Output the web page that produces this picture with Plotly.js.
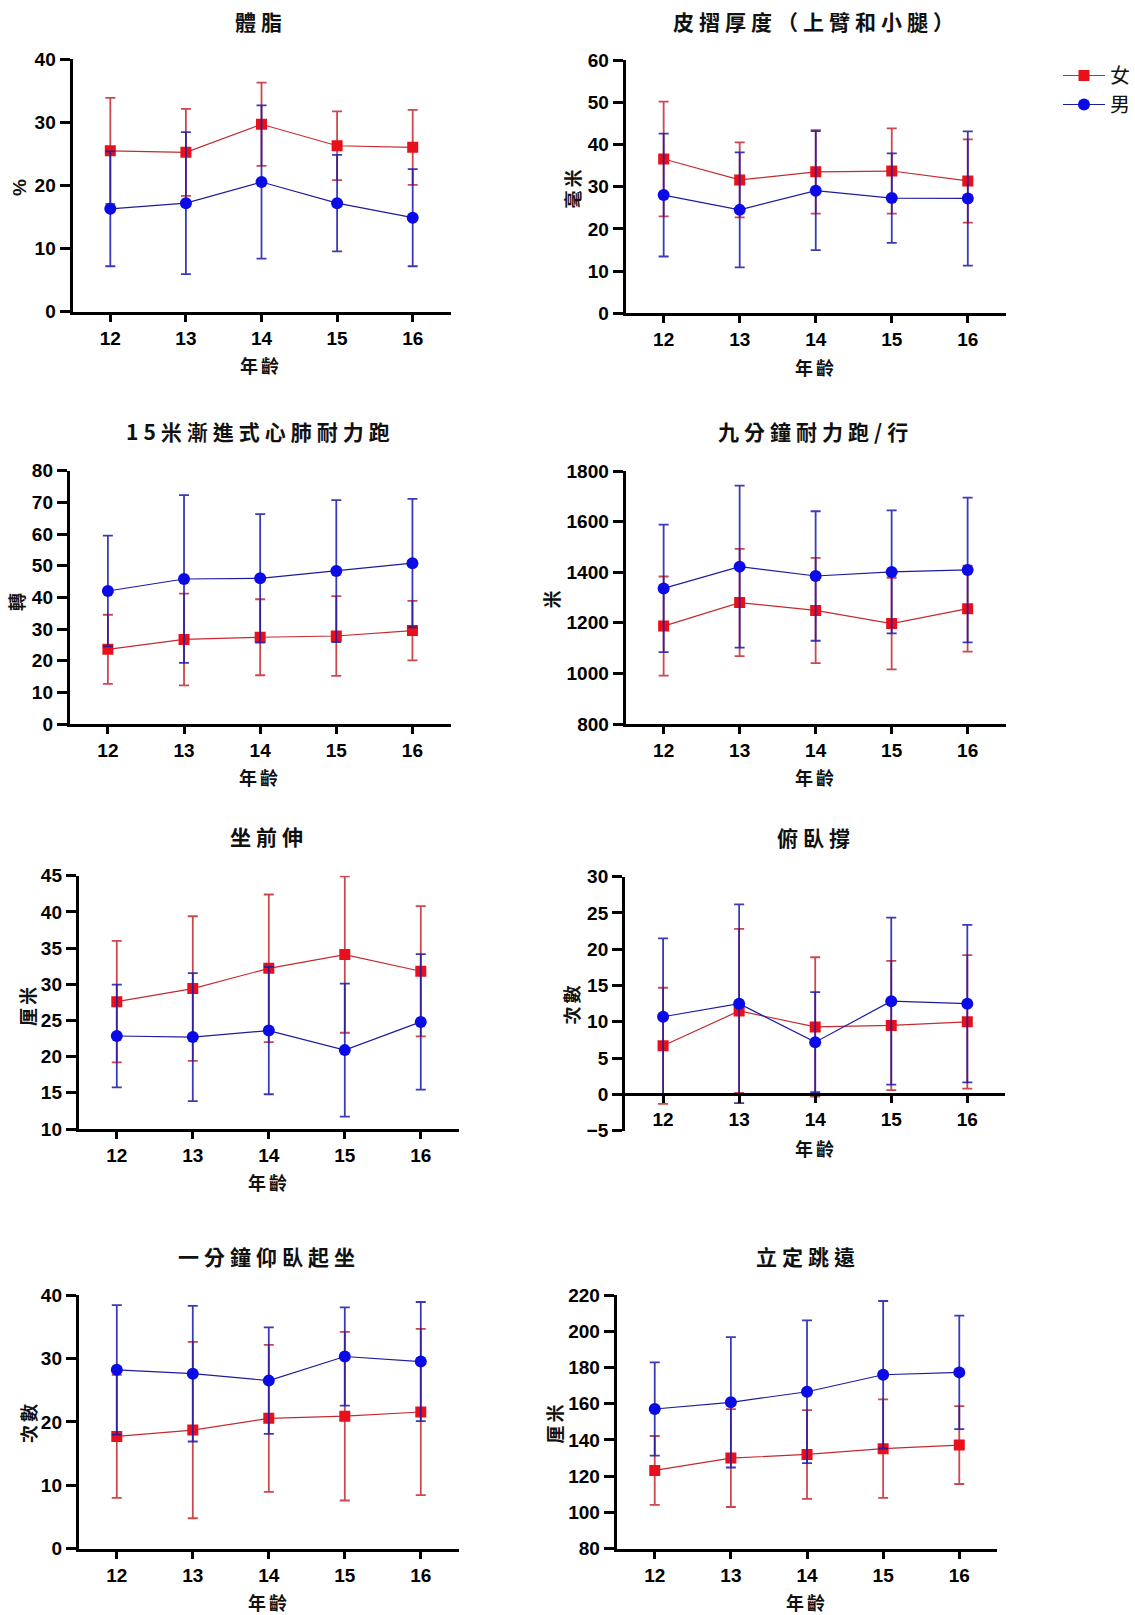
<!DOCTYPE html>
<html>
<head>
<meta charset="utf-8">
<script src="https://cdn.plot.ly/plotly-3.0.1.min.js"></script>
<style>
  html, body { margin: 0; padding: 0; background: #fff; }
  #chart { width: 1135px; height: 1615px; }
  .annotation-text { letter-spacing: 3px; }
</style>
</head>
<body>
<div id="chart"></div>
<script>
// ---- Data ----
const ages = [12, 13, 14, 15, 16];
const seriesNames = ['女', '男'];
const panelTitles = ['體脂', '皮摺厚度（上臂和小腿）', '15米漸進式心肺耐力跑', '九分鐘耐力跑/行',
                     '坐前伸', '俯臥撐', '一分鐘仰臥起坐', '立定跳遠'];
const yAxisTitles = ['%', '毫米', '轉', '米', '厘米', '次數', '次數', '厘米'];
const xAxisTitle = '年齡';

const bodyFatF = [25.5, 25.25, 29.7, 26.3, 26.05];
const bodyFatFsd = [8.4, 6.9, 6.6, 5.45, 5.95];
const bodyFatM = [16.3, 17.2, 20.55, 17.2, 14.9];
const bodyFatMsd = [9.1, 11.25, 12.15, 7.65, 7.7];

const skinfoldF = [36.55, 31.6, 33.5, 33.7, 31.35];
const skinfoldFsd = [13.6, 8.9, 9.9, 10.1, 9.85];
const skinfoldM = [28.0, 24.5, 29.05, 27.3, 27.2];
const skinfoldMsd = [14.55, 13.6, 14.1, 10.6, 15.9];

const pacerF = [23.6, 26.7, 27.4, 27.8, 29.5];
const pacerFsd = [10.9, 14.5, 12.0, 12.6, 9.4];
const pacerM = [42.0, 45.8, 46.0, 48.3, 50.8];
const pacerMsd = [17.5, 26.5, 20.3, 22.4, 20.3];

const nineMinF = [1187, 1280, 1249, 1197, 1256];
const nineMinFsd = [196, 212, 208, 181, 170];
const nineMinM = [1336, 1422, 1385, 1401, 1409];
const nineMinMsd = [252, 320, 256, 243, 286];

const sitReachF = [27.6, 29.4, 32.2, 34.1, 31.8];
const sitReachFsd = [8.4, 10.0, 10.2, 10.8, 9.0];
const sitReachM = [22.85, 22.7, 23.6, 20.9, 24.8];
const sitReachMsd = [7.1, 8.85, 8.8, 9.2, 9.35];

const pushUpF = [6.7, 11.5, 9.3, 9.5, 10.0];
const pushUpFsd = [8.0, 11.3, 9.6, 8.9, 9.2];
const pushUpM = [10.7, 12.5, 7.2, 12.85, 12.5];
const pushUpMsd = [10.8, 13.7, 6.9, 11.5, 10.85];

const sitUpF = [17.7, 18.7, 20.55, 20.9, 21.55];
const sitUpFsd = [9.7, 13.9, 11.6, 13.3, 13.1];
const sitUpM = [28.2, 27.6, 26.5, 30.3, 29.5];
const sitUpMsd = [10.2, 10.7, 8.4, 7.75, 9.4];

const jumpF = [123.2, 130.0, 132.0, 135.2, 137.2];
const jumpFsd = [19.0, 27.0, 24.5, 27.2, 21.5];
const jumpM = [157.1, 160.8, 166.6, 176.0, 177.3];
const jumpMsd = [25.7, 36.0, 39.4, 40.7, 31.3];

const yRanges = [[0, 40], [0, 60], [0, 80], [800, 1800], [10, 45], [-5, 30], [0, 40], [80, 220]];
const yDticks = [10, 10, 10, 200, 5, 5, 10, 20];

// ---- Layout geometry (pixels) ----
const W = 1135, H = 1615;
const boxes = [
  {l: 72.7, r: 451.7, t: 59.3, b: 311.7},
  {l: 627.3, r: 1008.5, t: 60, b: 313.3},
  {l: 70, r: 451.7, t: 470.7, b: 724},
  {l: 627.3, r: 1008.3, t: 471, b: 724},
  {l: 79, r: 460, t: 875.7, b: 1129},
  {l: 626.7, r: 1008, t: 876.7, b: 1130.7},
  {l: 79, r: 460, t: 1295, b: 1548.7},
  {l: 618.3, r: 1000, t: 1295, b: 1548.7}
];
const titlePos = [[262, 20.7], [818, 20.7], [261, 430.7], [818, 430.7], [270, 835.7], [818, 836.7], [270, 1255.7], [810, 1255.7]];
const xTitlePos = [[262, 365], [818, 366.7], [261, 776.7], [818, 776.7], [270, 1181.7], [818, 1148], [270, 1601.7], [809, 1601.7]];
const yTitlePos = [[20, 186], [574, 187], [16, 600], [552, 598], [27, 1005], [573, 1003], [28, 1422], [555, 1423]];

const femaleData = [[bodyFatF, bodyFatFsd], [skinfoldF, skinfoldFsd], [pacerF, pacerFsd], [nineMinF, nineMinFsd],
                    [sitReachF, sitReachFsd], [pushUpF, pushUpFsd], [sitUpF, sitUpFsd], [jumpF, jumpFsd]];
const maleData = [[bodyFatM, bodyFatMsd], [skinfoldM, skinfoldMsd], [pacerM, pacerMsd], [nineMinM, nineMinMsd],
                  [sitReachM, sitReachMsd], [pushUpM, pushUpMsd], [sitUpM, sitUpMsd], [jumpM, jumpMsd]];

const RED = '#e8111b', BLUE = '#0b0be6';
const tickFont = {family: '"Liberation Sans", Arial, sans-serif', size: 19, color: '#000', weight: 'bold'};
const cjkTitleFont = {family: '"Noto Sans CJK TC", "Noto Sans CJK SC", sans-serif', size: 21, color: '#111', weight: 700};
const cjkAxisFont = {family: '"Noto Sans CJK TC", "Noto Sans CJK SC", sans-serif', size: 18, color: '#111', weight: 700};

const px2x = v => v / W;
const px2y = v => 1 - v / H;

// wider letter spacing for panel titles (annotation indices 0, 3, 6, ...)
const styleEl = document.createElement('style');
styleEl.textContent = [0, 3, 6, 9, 12, 15, 18, 21]
  .map(n => `.annotation[data-index="${n}"] .annotation-text { letter-spacing: 5px; }`).join('\n');
document.head.appendChild(styleEl);

const traces = [];
const layout = {
  width: W, height: H,
  margin: {l: 0, r: 0, t: 0, b: 0},
  paper_bgcolor: '#fff', plot_bgcolor: 'rgba(0,0,0,0)',
  showlegend: true,
  legend: {
    x: px2x(1061), y: px2y(56), xanchor: 'left', yanchor: 'top',
    font: {family: '"Noto Sans CJK TC", sans-serif', size: 20, color: '#111'},
    traceorder: 'normal', tracegroupgap: 9, itemwidth: 42, bgcolor: 'rgba(0,0,0,0)'
  },
  annotations: []
};

for (let i = 0; i < 8; i++) {
  const k = i + 1;
  const xa = 'x' + (k === 1 ? '' : k), ya = 'y' + (k === 1 ? '' : k);
  const xkey = 'xaxis' + (k === 1 ? '' : k), ykey = 'yaxis' + (k === 1 ? '' : k);
  const b = boxes[i];
  const [fm, fsd] = femaleData[i];
  const [mm, msd] = maleData[i];

  traces.push({
    type: 'scatter', mode: 'lines+markers', name: seriesNames[0], x: ages, y: fm,
    xaxis: xa, yaxis: ya, legendgroup: 'f', showlegend: i === 0,
    line: {color: '#c42a30', width: 1.2},
    marker: {symbol: 'square', size: 11, color: RED},
    error_y: {type: 'data', array: fsd, visible: true, color: 'rgba(195,40,45,0.85)', thickness: 1.8, width: 5},
    hoverinfo: 'skip'
  });
  traces.push({
    type: 'scatter', mode: 'lines+markers', name: seriesNames[1], x: ages, y: mm,
    xaxis: xa, yaxis: ya, legendgroup: 'm', showlegend: i === 0,
    line: {color: '#1c1c9c', width: 1.2},
    marker: {symbol: 'circle', size: 12, color: BLUE},
    error_y: {type: 'data', array: msd, visible: true, color: 'rgba(25,25,170,0.85)', thickness: 1.8, width: 5},
    hoverinfo: 'skip'
  });

  const xAxis = {
    domain: [px2x(b.l), px2x(b.r)], range: [11.5, 16.5],
    tickmode: 'array', tickvals: ages, ticktext: ages.map(String),
    showline: true, linecolor: '#000', linewidth: 3,
    ticks: 'outside', ticklen: 7, tickwidth: 3, tickcolor: '#000',
    tickfont: tickFont, showgrid: false, zeroline: false, fixedrange: true
  };
  if (i === 5) {
    xAxis.anchor = 'free';
    xAxis.position = px2y(b.t + (b.b - b.t) * (30 / 35));
  } else {
    xAxis.anchor = ya;
  }
  layout[xkey] = xAxis;
  layout[ykey] = {
    domain: [px2y(b.b), px2y(b.t)], range: yRanges[i], dtick: yDticks[i], tick0: yRanges[i][0],
    anchor: xa, showline: true, linecolor: '#000', linewidth: 3,
    ticks: 'outside', ticklen: 10, tickwidth: 3, tickcolor: '#000',
    tickfont: tickFont, showgrid: false, zeroline: false, fixedrange: true
  };

  layout.annotations.push({
    xref: 'paper', yref: 'paper', x: px2x(titlePos[i][0]), y: px2y(titlePos[i][1]),
    xanchor: 'center', yanchor: 'middle', showarrow: false, text: panelTitles[i], font: cjkTitleFont
  });
  layout.annotations.push({
    xref: 'paper', yref: 'paper', x: px2x(xTitlePos[i][0]), y: px2y(xTitlePos[i][1]),
    xanchor: 'center', yanchor: 'middle', showarrow: false, text: xAxisTitle, font: cjkAxisFont
  });
  layout.annotations.push({
    xref: 'paper', yref: 'paper', x: px2x(yTitlePos[i][0]), y: px2y(yTitlePos[i][1]),
    xanchor: 'center', yanchor: 'middle', showarrow: false, textangle: -90, text: yAxisTitles[i],
    font: i === 0 ? {family: '"Liberation Sans", Arial, sans-serif', size: 19, color: '#111', weight: 'bold'} : cjkAxisFont
  });
}

Plotly.newPlot('chart', traces, layout, {staticPlot: true, displayModeBar: false});
</script>
</body>
</html>
